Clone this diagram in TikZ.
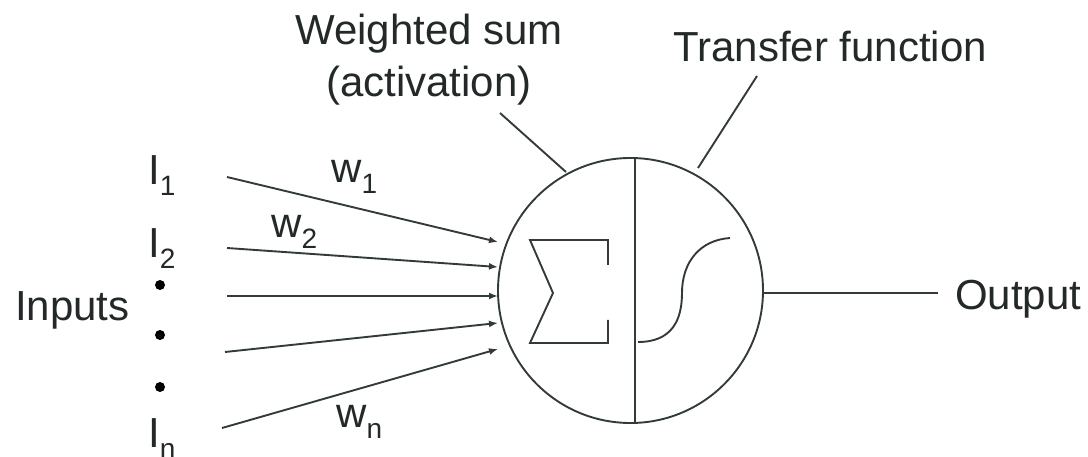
\documentclass[tikz,border=0pt]{standalone}
\usepackage{fontspec}
\setmainfont{Liberation Sans}
\usetikzlibrary{arrows.meta}
\definecolor{linecol}{RGB}{50,58,58}
\definecolor{textcol}{RGB}{35,40,40}
\newcommand\mysub[1]{\raisebox{-11pt}{\fontsize{28}{30}\selectfont #1}}
\tikzset{
  lbl/.style={inner sep=0pt, anchor=base west, text=textcol, font=\fontsize{42}{50}\selectfont},
  lblc/.style={inner sep=0pt, anchor=base, text=textcol, font=\fontsize{42}{50}\selectfont},
  ln/.style={draw=linecol, line width=1.9pt},
  inarrow/.style={ln, -{Latex[length=9pt,width=7pt]}},
  dotmark/.style={circle, fill=black, inner sep=0pt, minimum size=10pt}
}
\begin{document}
\begin{tikzpicture}[x=1pt,y=-1pt]
\useasboundingbox (0,0) rectangle (1088,457);
% neuron
\node[ln, circle, minimum size=265pt, inner sep=0pt] (neuron) at (630.5,290.5) {};
\coordinate (vtop) at (635,158.5);
\coordinate (vbot) at (635,423);
\draw[ln] (vtop) -- (vbot);
% sigma
\draw[ln, line join=miter] (608,265) -- (608,240) -- (530,240) -- (553,293) -- (530,343) -- (608,343) -- (608,320);
% transfer curve
\draw[ln] (638,342) .. controls (672,342) and (682,320) .. (682,293)
  .. controls (682,262) and (700,240) .. (730,238);
% inputs
\coordinate (s1) at (227,177); \coordinate (e1) at (498,242);
\coordinate (s2) at (227,248); \coordinate (e2) at (498,267);
\coordinate (s3) at (227,296); \coordinate (e3) at (498,296);
\coordinate (s4) at (225,352); \coordinate (e4) at (498,323);
\coordinate (s5) at (222,428); \coordinate (e5) at (498,349);
\foreach \i in {1,...,5} \draw[inarrow] (s\i) -- (e\i);
% labels left
\node[lbl] (i1) at (148,185) {I\mysub{1}};
\node[lbl] (i2) at (148,258) {I\mysub{2}};
\node[lbl] (in) at (148,447) {I\mysub{n}};
\node[dotmark] (d1) at (160,285) {};
\node[dotmark] (d2) at (160,335) {};
\node[dotmark] (d3) at (160,387) {};
\node[lbl] (inputs) at (15,320) {Inputs};
% weights
\node[lbl] (w1) at (331,183) {w\mysub{1}};
\node[lbl] (w2) at (271,238) {w\mysub{2}};
\node[lbl] (wn) at (336,427) {w\mysub{n}};
% top labels
\node[lblc] (ws1) at (429,45) {Weighted sum};
\node[lblc] (ws2) at (429,97) {(activation)};
\node[lbl] (tf) at (673,62) {Transfer function};
\coordinate (wsa) at (500,113);
\coordinate (wsb) at (566,172);
\draw[ln] (wsa) -- (wsb);
\coordinate (tfa) at (757,76);
\coordinate (tfb) at (698,168);
\draw[ln] (tfa) -- (tfb);
% output
\node[lbl] (out) at (955,310) {Output};
\coordinate (oend) at (938,293);
\draw[ln] (neuron.east |- oend) -- (oend);
\end{tikzpicture}
\end{document}
